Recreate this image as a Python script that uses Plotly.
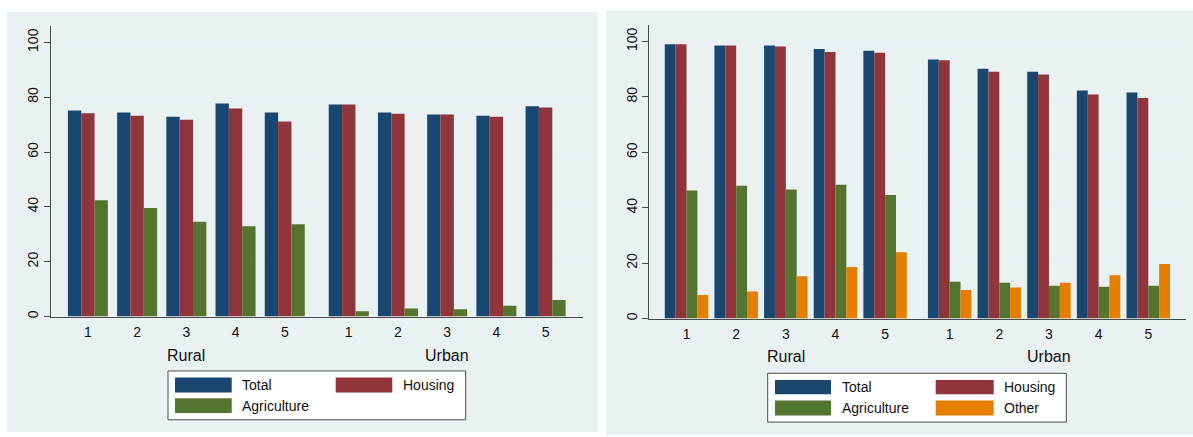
import plotly.graph_objects as go

# ---------------- data ----------------
quintiles = ["1", "2", "3", "4", "5"]
areas = ["Rural", "Urban"]
tick_labels = quintiles + quintiles

# Left panel (Rural 1-5, then Urban 1-5)
left_total = [75.1, 74.4, 72.9, 77.7, 74.4, 77.3, 74.4, 73.7, 73.2, 76.7]
left_housing = [74.1, 73.2, 71.8, 75.9, 71.1, 77.3, 74.0, 73.7, 72.9, 76.2]
left_agriculture = [42.4, 39.6, 34.6, 32.9, 33.7, 1.9, 2.9, 2.7, 3.9, 6.0]

# Right panel
right_total = [99.0, 98.6, 98.6, 97.3, 96.7, 93.5, 90.2, 89.1, 82.3, 81.6]
right_housing = [99.0, 98.6, 98.2, 96.2, 95.9, 93.2, 89.1, 88.1, 80.9, 79.6]
right_agriculture = [46.2, 47.9, 46.6, 48.3, 44.6, 13.3, 12.9, 11.8, 11.5, 11.8]
right_other = [8.5, 9.8, 15.3, 18.6, 23.9, 10.3, 11.2, 12.9, 15.6, 19.7]

series_names = ["Total", "Housing", "Agriculture", "Other"]

# ---------------- style ----------------
W, H = 1193, 437
COLORS = {"Total": "#1a476f", "Housing": "#90353b", "Agriculture": "#55752f", "Other": "#e37e00"}
PANEL = "#eaf1f3"
GRID = "#e8eef1"
AXIS = "#4a4a4a"
FONT = "Liberation Sans, Arial, Helvetica, sans-serif"

# category positions on a numeric axis (gap between the two area groups)
xpos = [i + 1 for i in range(5)] + [i + 6.3 for i in range(5)]

fig = go.Figure()

def add_panel(series, xa, ya, bar_w):
    n = len(series)
    for i, (name, vals) in enumerate(series):
        fig.add_trace(go.Bar(
            x=xpos, y=vals, name=name, xaxis=xa, yaxis=ya,
            width=bar_w, offset=-n * bar_w / 2 + i * bar_w,
            marker=dict(color=COLORS[name], line=dict(width=0)),
            showlegend=False,
        ))

add_panel([("Total", left_total), ("Housing", left_housing),
           ("Agriculture", left_agriculture)], "x", "y", 0.271)
add_panel([("Total", right_total), ("Housing", right_housing),
           ("Agriculture", right_agriculture), ("Other", right_other)], "x2", "y2", 0.219)

def px(x):
    return x / W

def py(y):
    return (H - y) / H

xaxis_common = dict(
    range=[0.25, 11.06], tickmode="array", tickvals=xpos, ticktext=tick_labels,
    ticks="", showgrid=False, zeroline=False, showline=True, linecolor=AXIS, linewidth=1,
    ticklabelstandoff=3,
    tickfont=dict(family=FONT, size=14, color="#111"), fixedrange=True,
)
yaxis_common = dict(
    range=[0, 106], tickmode="array", tickvals=[0, 20, 40, 60, 80, 100],
    ticks="outside", ticklen=6, tickcolor=AXIS, tickwidth=1, tickangle=-90,
    showgrid=True, gridcolor=GRID, gridwidth=1, zeroline=False,
    showline=True, linecolor=AXIS, linewidth=1,
    tickfont=dict(family=FONT, size=14, color="#111"), fixedrange=True,
)

fig.update_layout(
    width=W, height=H,
    margin=dict(l=0, r=0, t=0, b=0),
    paper_bgcolor="white", plot_bgcolor="white",
    barmode="overlay",
    showlegend=False,
    xaxis=dict(domain=[px(51), px(583)], anchor="y", **xaxis_common),
    yaxis=dict(domain=[py(318), py(26)], anchor="x", **yaxis_common),
    xaxis2=dict(domain=[px(649.3), px(1186)], anchor="y2", **xaxis_common),
    yaxis2=dict(domain=[py(320), py(25)], anchor="x2", **yaxis_common),
)

shapes = []
annotations = []

# gray panel backgrounds
shapes.append(dict(type="rect", xref="paper", yref="paper", x0=px(7), x1=px(598),
                   y0=py(434), y1=py(12), fillcolor=PANEL, line=dict(width=0), layer="below"))
shapes.append(dict(type="rect", xref="paper", yref="paper", x0=px(606), x1=px(1193),
                   y0=py(437), y1=py(10.5), fillcolor=PANEL, line=dict(width=0), layer="below"))

# area group labels
for xa, yv in (("x", 356.7), ("x2", 358)):
    for k, area in enumerate(areas):
        annotations.append(dict(
            xref=xa, yref="paper", x=xpos[5 * k + 2], y=py(yv), text=area,
            showarrow=False, xanchor="center", yanchor="middle",
            font=dict(family=FONT, size=16, color="#111"),
        ))

# custom legends (Stata style)
def legend(box, entries):
    bx0, by0, bx1, by1 = box
    shapes.append(dict(type="rect", xref="paper", yref="paper", x0=px(bx0), x1=px(bx1),
                       y0=py(by1), y1=py(by0), fillcolor="white",
                       line=dict(color=AXIS, width=1)))
    for name, sx0, sx1, sy0, sy1, tx in entries:
        shapes.append(dict(type="rect", xref="paper", yref="paper", x0=px(sx0), x1=px(sx1),
                           y0=py(sy1), y1=py(sy0), fillcolor=COLORS[name], line=dict(width=0)))
        annotations.append(dict(
            xref="paper", yref="paper", x=px(tx), y=py((sy0 + sy1) / 2), text=name,
            showarrow=False, xanchor="left", yanchor="middle",
            font=dict(family=FONT, size=14, color="#111"),
        ))

legend((168, 372.7, 465.7, 421.7), [
    ("Total", 175, 231.7, 379.3, 394.3, 239.5),
    ("Housing", 335.7, 392.3, 379.3, 394.3, 400.5),
    ("Agriculture", 175, 231.7, 400, 415, 239.5),
])
legend((767.7, 375, 1066.3, 424), [
    ("Total", 775, 831, 381.7, 396, 839.5),
    ("Housing", 935.7, 993.7, 381.7, 396, 1001.5),
    ("Agriculture", 775, 831, 402.3, 417.3, 839.5),
    ("Other", 935.7, 993.7, 402.3, 417.3, 1001.5),
])

fig.update_layout(shapes=shapes, annotations=annotations)

# remove the browser's default page margin so the figure sits at (0, 0)
fig.write_html("out.html", config={"displayModeBar": False},
               post_script="document.body.style.margin='0px';")
